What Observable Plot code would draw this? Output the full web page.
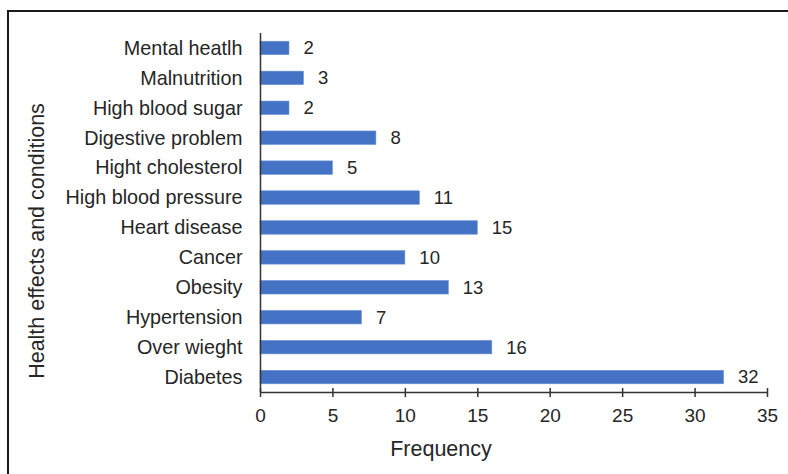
<!DOCTYPE html>
<html>
<head>
<meta charset="utf-8">
<script src="https://cdn.jsdelivr.net/npm/d3@7"></script>
<script src="https://cdn.jsdelivr.net/npm/@observablehq/plot@0.6"></script>
<style>
  html, body { margin: 0; padding: 0; background: #fff; }
  #wrap { position: relative; width: 788px; height: 474px; overflow: hidden; }
  #frame {
    position: absolute; left: 7px; top: 10px; right: -10px; bottom: -10px;
    border-top: 2px solid #1a1a1a; border-left: 2px solid #1a1a1a;
    pointer-events: none;
  }
  svg { display: block; }
</style>
</head>
<body>
<div id="wrap"><div id="frame"></div></div>
<script>
// Reported health effects and how often each was mentioned
const conditions = [
  "Mental heatlh", "Malnutrition", "High blood sugar", "Digestive problem",
  "Hight cholesterol", "High blood pressure", "Heart disease", "Cancer",
  "Obesity", "Hypertension", "Over wieght", "Diabetes"
];
const frequencies = [2, 3, 2, 8, 5, 11, 15, 10, 13, 7, 16, 32];
const xTicks = [0, 5, 10, 15, 20, 25, 30, 35];
const xTitle = "Frequency";
const yTitle = "Health effects and conditions";

const rows = conditions.map((name, i) => ({name, value: frequencies[i]}));

const font = "'Liberation Sans', Arial, sans-serif";
const ink = "#262626";
const axisInk = "#333";

const W = 788, H = 474;
const mTop = 33, mBottom = 82;
// half a band step: the category axis line sits on the lower edge of the last band
const halfStep = (H - mTop - mBottom) / conditions.length / 2;

const chart = Plot.plot({
  width: W,
  height: H,
  marginLeft: 260,
  marginRight: 21,
  marginTop: mTop,
  marginBottom: mBottom,
  style: {fontFamily: font, color: ink, background: "transparent"},
  x: {domain: [0, 35], ticks: xTicks},
  y: {domain: conditions, paddingInner: 0.55, paddingOuter: 0.275, round: false},
  marks: [
    Plot.barX(rows, {x: "value", y: "name", fill: "#4472C4", stroke: "#6a90d6", strokeWidth: 0.6}),
    Plot.text(rows, {
      x: "value", y: "name", text: d => String(d.value),
      dx: 14, textAnchor: "start", fontSize: 18.5, fill: ink
    }),
    // category labels
    Plot.axisY({tickSize: 0, tickPadding: 18, fontSize: 19.8, fill: ink, label: null}),
    // value axis: tick marks crossing the axis line, then labels
    Plot.axisX(xTicks, {tickSize: 9, dy: -4, text: null, stroke: axisInk, strokeWidth: 1.5, label: null}),
    Plot.axisX(xTicks, {tickSize: 0, tickPadding: 16, fontSize: 19, fill: ink, label: null}),
    Plot.ruleY([conditions[conditions.length - 1]], {dy: halfStep, stroke: axisInk, strokeWidth: 1.5}),
    Plot.ruleX([0], {stroke: axisInk, strokeWidth: 1.5}),
    // axis titles
    Plot.text([xTitle], {
      frameAnchor: "bottom", dx: -73, dy: 57, fontSize: 21.5, fill: ink, lineAnchor: "middle"
    }),
    Plot.text([yTitle], {
      frameAnchor: "left", textAnchor: "middle", rotate: -90, dx: -223, dy: 28,
      fontSize: 21.5, fill: ink, lineAnchor: "middle"
    })
  ]
});

document.getElementById("wrap").prepend(chart);
</script>
</body>
</html>
